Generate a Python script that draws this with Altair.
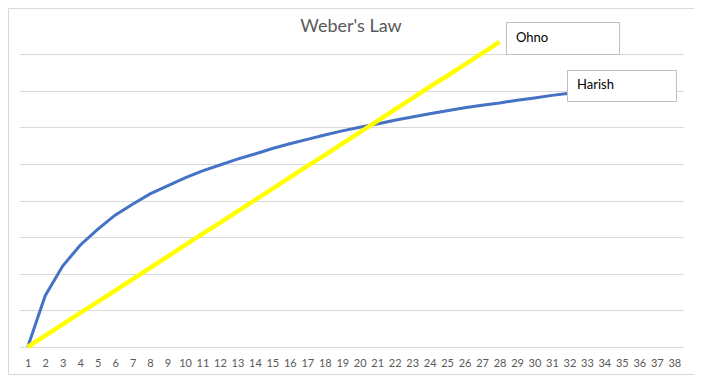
import altair as alt
import pandas as pd

categories = list(range(1, 39))

harish_x = list(range(1, 33))
harish = [0, 1.40, 2.21, 2.78, 3.21, 3.60, 3.90, 4.18, 4.40, 4.62, 4.81, 4.97, 5.13,
          5.27, 5.42, 5.55, 5.67, 5.79, 5.90, 6.00, 6.09, 6.19, 6.28, 6.37, 6.45,
          6.53, 6.60, 6.66, 6.74, 6.80, 6.87, 6.93]

ohno_x = list(range(1, 29))
ohno = [0, 0.31, 0.62, 0.93, 1.23, 1.54, 1.85, 2.16, 2.47, 2.78, 3.09, 3.39, 3.70,
        4.01, 4.32, 4.63, 4.94, 5.24, 5.55, 5.86, 6.17, 6.48, 6.79, 7.10, 7.40,
        7.71, 8.02, 8.33]

grid_values = [0, 1, 2, 3, 4, 5, 6, 7, 8]
title_text = "Weber's Law"
font = "Lato"

df_h = pd.DataFrame({"x": harish_x, "y": harish, "series": "Harish"})
df_o = pd.DataFrame({"x": ohno_x, "y": ohno, "series": "Ohno"})

W, H = 664, 293

xenc = alt.X("x:O", scale=alt.Scale(domain=categories, padding=0.5),
             axis=alt.Axis(title=None, labelAngle=0, ticks=False, domain=False,
                           grid=False, labelPadding=10, labelFontSize=11,
                           labelColor="#595959", labelFont=font,
                           labelOverlap=False))
yenc = alt.Y("y:Q", scale=alt.Scale(domain=[0, 8], nice=False, zero=True),
             axis=alt.Axis(title=None, labels=False, ticks=False, domain=False,
                           grid=True, values=grid_values, tickCount=9,
                           gridColor="#d9d9d9", gridWidth=1))

blue = alt.Chart(df_h).mark_line(color="#4472C4", strokeWidth=3, clip=False).encode(
    x=xenc, y=yenc)
yellow = alt.Chart(df_o).mark_line(color="#FFFF00", strokeWidth=4.5, clip=False).encode(
    x=xenc, y=yenc)

one = pd.DataFrame({"t": [title_text]})

border = alt.Chart(one).mark_rect(fill="transparent", stroke="#d9d9d9", strokeWidth=1).encode(
    x=alt.value(-10.5), x2=alt.value(677.5), y=alt.value(-45.5), y2=alt.value(320.5))

title = alt.Chart(one).mark_text(fontSize=18, color="#595959", font=font,
                                 align="center", baseline="middle").encode(
    x=alt.value(332), y=alt.value(-27), text="t:N")

ohno_lbl = pd.DataFrame({"t": ["Ohno"]})
harish_lbl = pd.DataFrame({"t": ["Harish"]})

ohno_box = alt.Chart(ohno_lbl).mark_rect(fill="white", stroke="#bfbfbf", strokeWidth=1).encode(
    x=alt.value(487.5), x2=alt.value(600.5), y=alt.value(-31.5), y2=alt.value(0.5))
ohno_txt = alt.Chart(ohno_lbl).mark_text(fontSize=13, color="#000000", font=font,
                                         align="left", baseline="middle").encode(
    x=alt.value(497), y=alt.value(-16), text="t:N")

harish_box = alt.Chart(harish_lbl).mark_rect(fill="white", stroke="#bfbfbf", strokeWidth=1).encode(
    x=alt.value(548.5), x2=alt.value(657.5), y=alt.value(16.5), y2=alt.value(47.5))
harish_txt = alt.Chart(harish_lbl).mark_text(fontSize=13, color="#000000", font=font,
                                             align="left", baseline="middle").encode(
    x=alt.value(558), y=alt.value(31), text="t:N")

chart = alt.layer(
    blue, yellow, border, title, ohno_box, ohno_txt, harish_box, harish_txt
).properties(
    width=W, height=H,
    autosize=alt.AutoSizeParams(type="none"),
    padding={"left": 11, "top": 46, "right": 11, "bottom": 28},
    background="white",
).configure_view(stroke=None)

chart.save("out.html", embed_options={"renderer": "svg", "actions": False})
